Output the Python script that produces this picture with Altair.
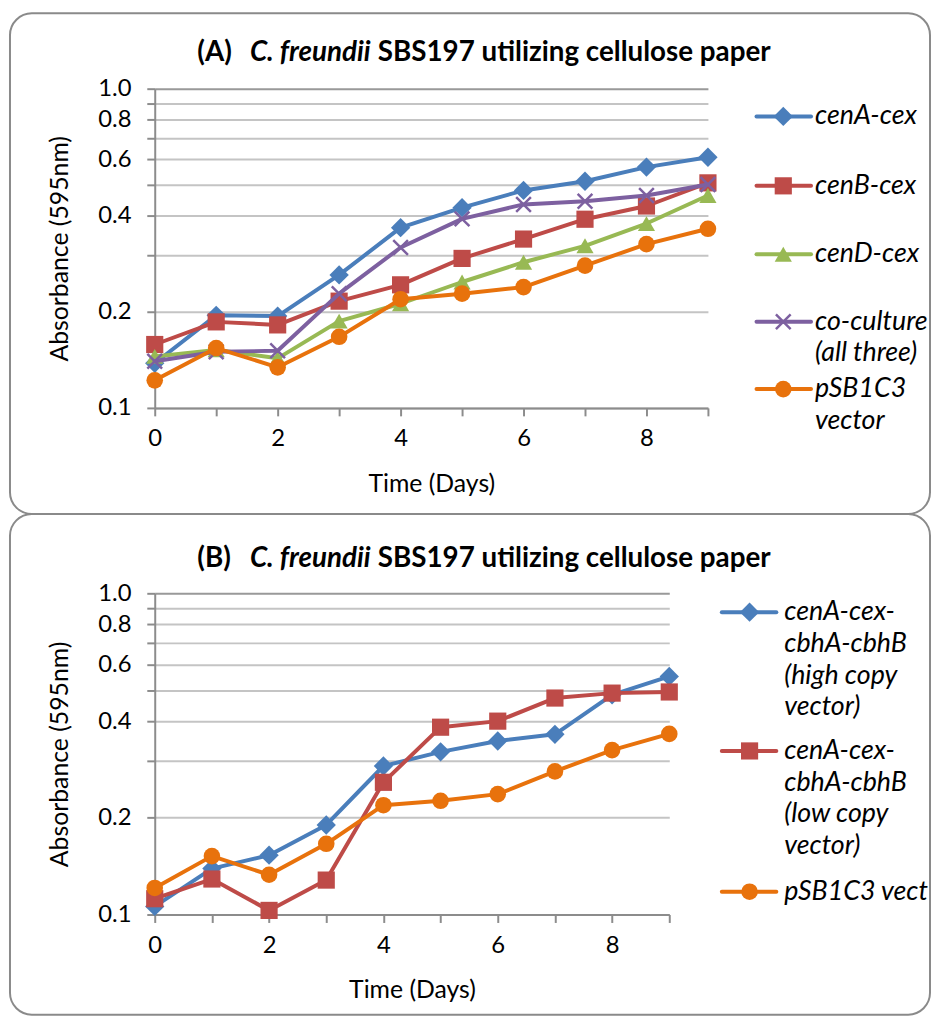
import altair as alt
import pandas as pd

# ---------------- data ----------------
days = list(range(10))

a_names = ["cenA-cex", "cenB-cex", "cenD-cex", "co-culture (all three)", "pSB1C3 vector"]
a_cenA = [0.138, 0.195, 0.194, 0.261, 0.367, 0.424, 0.480, 0.513, 0.568, 0.610]
a_cenB = [0.158, 0.186, 0.182, 0.216, 0.243, 0.294, 0.338, 0.390, 0.429, 0.507]
a_cenD = [0.145, 0.152, 0.143, 0.187, 0.212, 0.248, 0.286, 0.322, 0.378, 0.463]
a_cocult = [0.140, 0.150, 0.151, 0.228, 0.318, 0.391, 0.434, 0.444, 0.463, 0.501]
a_vector = [0.122, 0.154, 0.134, 0.167, 0.219, 0.228, 0.239, 0.279, 0.326, 0.364]
a_legend = [["cenA-cex"], ["cenB-cex"], ["cenD-cex"], ["co-culture", "(all three)"], ["pSB1C3", "vector"]]

b_names = ["cenA-cex-cbhA-cbhB (high copy vector)", "cenA-cex-cbhA-cbhB (low copy vector)", "pSB1C3 vector"]
b_high = [0.106, 0.139, 0.153, 0.190, 0.290, 0.321, 0.347, 0.364, 0.483, 0.551]
b_low = [0.112, 0.129, 0.103, 0.128, 0.258, 0.383, 0.400, 0.472, 0.489, 0.493]
b_vector = [0.121, 0.152, 0.133, 0.166, 0.219, 0.226, 0.237, 0.279, 0.325, 0.365]
b_legend = [["cenA-cex-", "cbhA-cbhB", "(high copy", "vector)"],
            ["cenA-cex-", "cbhA-cbhB", "(low copy", "vector)"],
            ["pSB1C3 vector"]]

y_ticks = [0.1, 0.2, 0.3, 0.4, 0.5, 0.6, 0.7, 0.8, 0.9, 1.0]

# ---------------- style ----------------
FONT = "Lato"
GRID = "#c4c4c4"
AXC = "#8c8c8c"
BORDER = "#8a8a8a"
BLUE, RED, GREEN, PURPLE, ORANGE = "#4A7EBB", "#BE4B48", "#98B954", "#7D60A0", "#E8720C"
XPATH = "M-1,-1L1,1M-1,1L1,-1"

DUMMY = pd.DataFrame({"k": [0]})


def make_df(names, series):
    rows = []
    for n, vals in zip(names, series):
        for d, v in zip(days, vals):
            rows.append({"day": d, "value": v, "series": n})
    return pd.DataFrame(rows)


def txt(text, x, y, size, weight="normal", style="normal", align="left", limit=None):
    kw = dict(text=text, font=FONT, fontSize=size, fontWeight=weight, fontStyle=style,
              align=align, baseline="middle", color="black")
    if limit is not None:
        kw["limit"] = limit
        kw["ellipsis"] = "\u200b"
    return alt.Chart(DUMMY).mark_text(**kw).encode(x=alt.value(x), y=alt.value(y))


def build_panel(letter, names, series, colors, shapes, sizes, legend, width, height,
                border, title_y, legend_x, legend_y, legend_limit=None):
    df = make_df(names, series)
    x_axis = alt.Axis(values=days, labelExpr="datum.value % 2 == 0 ? datum.label : ''",
                      labelFlush=False, labelOverlap=False, grid=False,
                      title="Time (Days)", titleFont=FONT, titleFontSize=25, titleFontWeight="normal",
                      titleColor="black", titleY=76, titleBaseline="middle",
                      labelFont=FONT, labelFontSize=24, labelColor="black", labelPadding=11,
                      tickSize=8, tickColor=AXC, tickWidth=2, domainColor=AXC, domainWidth=2)
    y_axis = alt.Axis(values=y_ticks,
                      labelExpr="indexof([3,5,7,9], round(datum.value*10)) >= 0 ? '' : format(datum.value, '.1f')",
                      labelOverlap=False, grid=True,
                      gridColor={"condition": {"test": "datum.value > 0.95", "value": "#999999"}, "value": GRID},
                      gridWidth=2,
                      title="Absorbance (595nm)", titleFont=FONT, titleFontSize=25, titleFontWeight="normal",
                      titleColor="black", titleX=-96, titleY=height / 2, titleAngle=270,
                      titleBaseline="middle", titleAlign="center",
                      labelFont=FONT, labelFontSize=24, labelColor="black", labelPadding=16,
                      tickSize=8, tickColor=AXC, tickWidth=2, domainColor=AXC, domainWidth=2)
    x_enc = alt.X("day:Q", scale=alt.Scale(domain=[0, 9], nice=False, zero=False), axis=x_axis)
    y_enc = alt.Y("value:Q", scale=alt.Scale(type="log", domain=[0.1, 1.0], nice=False), axis=y_axis)

    layers = []
    bx1, bx2, by1, by2 = border
    layers.append(alt.Chart(DUMMY).mark_rect(filled=False, color=BORDER, strokeWidth=2, cornerRadius=22)
                  .encode(x=alt.value(bx1), x2=alt.value(bx2), y=alt.value(by1), y2=alt.value(by2)))

    for name, color, shape, size in zip(names, colors, shapes, sizes):
        base = alt.Chart(df).transform_filter(alt.datum.series == name).encode(x=x_enc, y=y_enc)
        layers.append(base.mark_line(color=color, strokeWidth=4, strokeJoin="round", strokeCap="round"))
        if shape == XPATH:
            layers.append(base.mark_point(shape=shape, size=size, filled=False, color=color,
                                          strokeWidth=2.5, opacity=1))
        else:
            layers.append(base.mark_point(shape=shape, size=size, filled=True, color=color, opacity=1))

    # title
    layers.append(txt(f"({letter})", 43, title_y, 28, weight="bold"))
    layers.append(txt("C. freundii", 96, title_y, 28, weight="bold", style="italic"))
    layers.append(txt("SBS197 utilizing cellulose paper", 225, title_y, 28, weight="bold"))

    # legend
    lx1, lxm, lx2, ltx = legend_x
    for lines, color, shape, size, y0 in zip(legend, colors, shapes, sizes, legend_y):
        layers.append(alt.Chart(DUMMY).mark_rule(color=color, strokeWidth=4, strokeCap="round")
                      .encode(x=alt.value(lx1), x2=alt.value(lx2), y=alt.value(y0)))
        if shape == XPATH:
            layers.append(alt.Chart(DUMMY).mark_point(shape=shape, size=size, filled=False, color=color,
                                                      strokeWidth=2.5, opacity=1)
                          .encode(x=alt.value(lxm), y=alt.value(y0)))
        else:
            layers.append(alt.Chart(DUMMY).mark_point(shape=shape, size=size, filled=True, color=color, opacity=1)
                          .encode(x=alt.value(lxm), y=alt.value(y0)))
        for k, line in enumerate(lines):
            layers.append(txt(line, ltx, y0 + 32 * k, 27, style="italic", limit=legend_limit))

    return alt.layer(*layers).properties(width=width, height=height)


panel_a = build_panel(
    "A", a_names, [a_cenA, a_cenB, a_cenD, a_cocult, a_vector],
    [BLUE, RED, GREEN, PURPLE, ORANGE],
    ["diamond", "square", "triangle-up", XPATH, "circle"],
    [380, 300, 300, 220, 280],
    a_legend, 558, 322,
    border=(-146, 782, -76, 429), title_y=-36,
    legend_x=(607, 634, 662, 666), legend_y=[28, 98, 167, 235, 303])

panel_b = build_panel(
    "B", b_names, [b_high, b_low, b_vector],
    [BLUE, RED, ORANGE],
    ["diamond", "square", "circle"],
    [380, 300, 280],
    b_legend, 519, 324,
    border=(-146, 782, -80, 425), title_y=-35,
    legend_x=(572, 600, 627, 635), legend_y=[19, 159, 301], legend_limit=146)

chart = alt.vconcat(panel_a, panel_b, spacing=-2).properties(
    padding={"left": 1, "top": 0, "right": 0, "bottom": 0}
).configure_view(stroke=None)

chart.save("out.html", embed_options={"renderer": "svg", "actions": False})
